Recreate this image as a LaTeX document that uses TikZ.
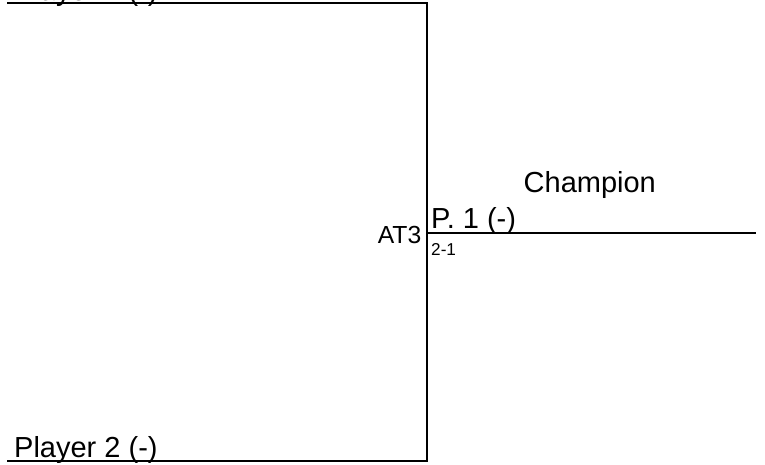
\documentclass[tikz,border=0pt]{standalone}
\usepackage{fontspec}
\setmainfont{Liberation Sans}
\tikzset{
  bline/.style={line width=2pt, line cap=rect},
  lbl/.style={inner sep=0pt, anchor=base west, font=\fontsize{29}{32}\selectfont},
  small/.style={inner sep=0pt, font=\fontsize{24.7}{27}\selectfont},
  tiny/.style={inner sep=0pt, anchor=base west, font=\fontsize{17.2}{20}\selectfont}
}
\begin{document}
\begin{tikzpicture}[x=1pt,y=1pt]
\useasboundingbox (0,0) rectangle (765,465);
% coordinates
\coordinate (p1s) at (8,461.5);
\coordinate (top) at (426.5,461.5);
\coordinate (p2s) at (8,4);
\coordinate (bot) at (426.5,4);
\coordinate (mid) at (426.5,232);
\coordinate (che) at (755,232);
% lines
\draw[bline] (p1s) -- (top) -- (bot) -- (p2s);
\draw[bline] (mid) -- (che);
% labels
\node[lbl] (pl1) at (14,464.5) {Player 1 (-)};
\node[lbl] (pl2) at (14,7) {Player 2 (-)};
\node[lbl] (w) at (431,236) {P. 1 (-)};
\node[lbl] (ch) at (523.5,272) {Champion};
\node[small, anchor=base east] (at) at (421.5,221) {AT3};
\node[tiny] (sc) at (431,209) {2-1};
\end{tikzpicture}
\end{document}
